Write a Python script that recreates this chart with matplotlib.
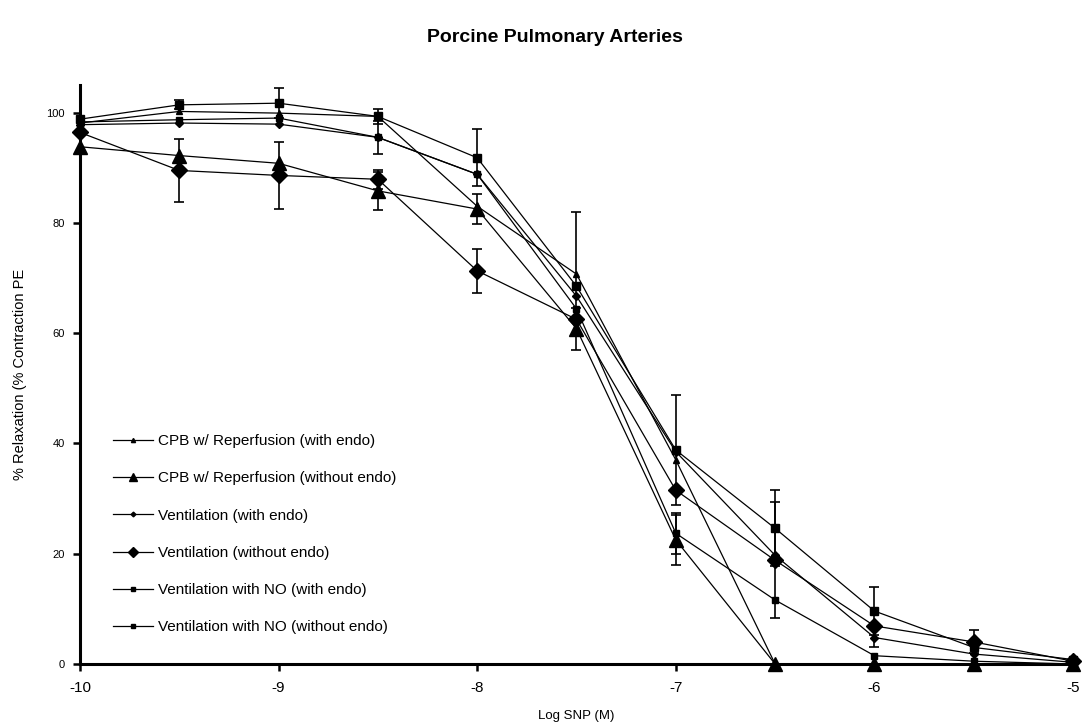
#!/usr/bin/env python3
# -*- coding: utf-8 -*-
"""
Curvas de relaxamento por SNP em arterias pulmonares porcinas.
Salva a figura em out.png.
"""

import numpy as np
import matplotlib
matplotlib.use("Agg")
import matplotlib.pyplot as plt

# Concentracoes (log M)
log_snp = [-10, -9.5, -9, -8.5, -8, -7.5, -7, -6.5, -6, -5.5, -5]

series_labels = [
    "CPB w/ Reperfusion (with endo)",
    "CPB w/ Reperfusion (without endo)",
    "Ventilation (with endo)",
    "Ventilation (without endo)",
    "Ventilation with NO (with endo)",
    "Ventilation with NO (without endo)",
]

# % relaxamento
cpb_with = [98.1, 100.2, 99.9, 99.3, 83.0, 70.7, 37.0, 0.0, 0.0, 0.0, 0.0]
cpb_without = [93.8, 92.2, 90.8, 85.8, 82.5, 60.8, 22.5, 0.0, 0.0, 0.0, 0.0]
vent_with = [97.8, 98.1, 97.9, 95.5, 88.8, 66.7, 38.5, 19.7, 4.8, 1.8, 0.3]
vent_without = [96.4, 89.5, 88.6, 87.9, 71.3, 62.5, 31.5, 18.8, 6.9, 4.0, 0.5]
ventno_with = [98.3, 98.7, 99.0, 95.5, 88.8, 64.4, 23.7, 11.6, 1.5, 0.5, 0.0]
ventno_without = [98.8, 101.4, 101.7, 99.3, 91.8, 68.5, 38.8, 24.6, 9.6, 3.0, 0.8]

# Erro padrao (so os que aparecem no grafico)
cpb_with_err = [0, 0, 0, 0, 0, 11.2, 0, 0, 0, 0, 0]
cpb_without_err = [0, 0, 0, 3.5, 2.7, 3.8, 4.6, 0, 0, 0, 0]
vent_with_err = [0, 0, 0, 3.0, 0, 0, 0, 0, 1.7, 0, 0]
vent_without_err = [0, 5.7, 6.0, 1.7, 4.0, 0, 0, 10.5, 0, 2.1, 0]
ventno_with_err = [0, 0, 0, 0, 0, 0, 3.7, 0, 0, 0, 0]
ventno_without_err = [0, 0.8, 2.7, 1.4, 5.2, 0, 9.9, 6.9, 4.4, 0, 0]


def main() -> None:
    plt.rcParams['font.family'] = ['Liberation Sans', 'DejaVu Sans']

    fig = plt.figure(figsize=(10.82, 7.27), dpi=100)
    ax = fig.add_axes([0.0739, 0.0867, 0.9178, 0.7964])

    values = [cpb_with, cpb_without, vent_with, vent_without, ventno_with, ventno_without]
    errors = [cpb_with_err, cpb_without_err, vent_with_err, vent_without_err,
              ventno_with_err, ventno_without_err]
    markers = ['^', '^', 'D', 'D', 's', 's']
    sizes = [5, 10, 4, 8, 5, 6]

    x = np.array(log_snp)
    for y, err, m, ms, label in zip(values, errors, markers, sizes, series_labels):
        y = np.array(y)
        err = np.array(err)
        ax.plot(x, y, color='black', lw=0.9, marker=m, markersize=ms,
                label=label, clip_on=False, zorder=3)
        keep = err > 0
        if keep.any():
            ax.errorbar(x[keep], y[keep], yerr=err[keep], fmt='none',
                        ecolor='black', elinewidth=1.2, capsize=3.5,
                        capthick=1.2, zorder=2)

    ax.set_xlim(-10, -5)
    ax.set_ylim(0, 105)
    ax.set_xticks([-10, -9, -8, -7, -6, -5])
    ax.set_xticklabels(['-10', '-9', '-8', '-7', '-6', '-5'])
    ax.set_yticks([0, 20, 40, 60, 80, 100])

    for side in ['top', 'right']:
        ax.spines[side].set_visible(False)
    for side in ['left', 'bottom']:
        ax.spines[side].set_linewidth(2.2)

    ax.tick_params(axis='x', direction='out', length=5, width=1.8, labelsize=11, pad=7)
    ax.tick_params(axis='y', direction='out', length=5, width=1.8, labelsize=8, pad=6)

    ax.set_xlabel('Log SNP (M)', fontsize=9.5, labelpad=11)
    ax.set_ylabel('% Relaxation (% Contraction PE', fontsize=10.5, labelpad=14)
    fig.suptitle('Porcine Pulmonary Arteries', fontsize=14, fontweight='bold',
                 x=0.513, y=0.96)

    ax.legend(loc='upper left', bbox_to_anchor=(0.026, 0.41), frameon=False,
              fontsize=11, handlelength=2.6, handletextpad=0.3, labelspacing=1.52,
              borderpad=0, markerscale=0.6)

    fig.savefig('out.png', dpi=100)


if __name__ == '__main__':
    main()
